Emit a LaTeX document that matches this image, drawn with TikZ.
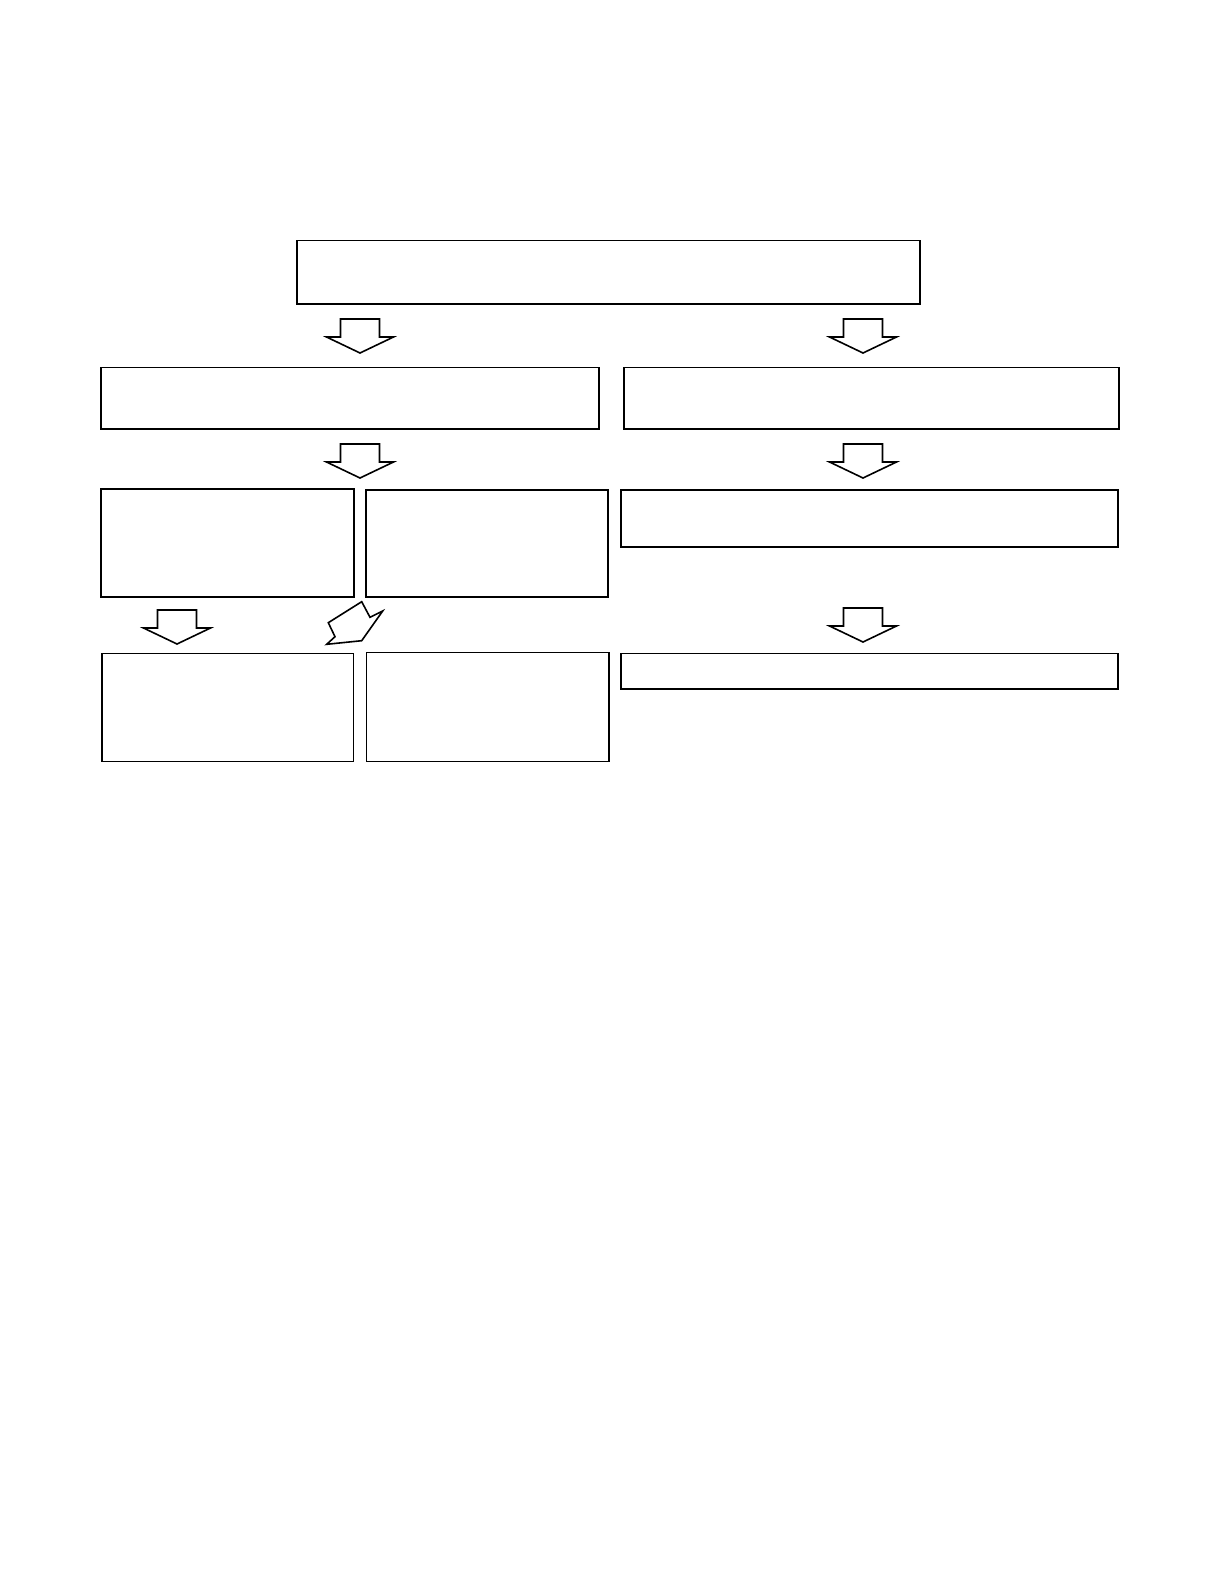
\documentclass[tikz,border=0pt]{standalone}
\usepackage{amsmath}
\usepackage{tikz}
\usetikzlibrary{calc}

\tikzset{
  flowbox/.style={draw, line width=1.2pt, inner sep=0pt, outer sep=0pt},
  arrowline/.style={draw, line width=1.6pt, line join=miter, fill=white}
}
% block arrow pointing down, top centre at (#1,#2)
\newcommand{\flowarrow}[2]{%
  \draw[arrowline, shift={(#1,#2)}] (-19.5,0) -- (19.5,0) -- (19.5,18) -- (33.5,18)
    -- (0,34) -- (-33.5,18) -- (-19.5,18) -- cycle;}

\begin{document}
\begin{tikzpicture}[x=1pt,y=-1pt]
      \useasboundingbox (0,0) rectangle (1218,1586);

      % boxes
      \node[flowbox, minimum width=623pt, minimum height=63.5pt] (top) at (608.5,272.25) {};
      \node[flowbox, minimum width=498pt, minimum height=61.5pt] (midL) at (350,398.25) {};
      \node[flowbox, minimum width=495pt, minimum height=61.5pt] (midR) at (871.5,398.25) {};
      \node[flowbox, minimum width=253pt, minimum height=108pt] (lowLa) at (227.5,543) {};
      \node[flowbox, minimum width=242pt, minimum height=107pt] (lowLb) at (487,543.5) {};
      \node[flowbox, minimum width=497pt, minimum height=57pt] (lowR) at (869.5,518.5) {};
      \node[flowbox, minimum width=251.5pt, minimum height=108pt] (botLa) at (227.75,707.5) {};
      \node[flowbox, minimum width=242.5pt, minimum height=109pt] (botLb) at (487.75,707) {};
      \node[flowbox, minimum width=497pt, minimum height=35.5pt] (botR) at (869.5,671.25) {};

      % arrows
      \flowarrow{360}{319}
      \flowarrow{863}{319}
      \flowarrow{360}{444}
      \flowarrow{863}{444}
      \flowarrow{177}{610}
      \flowarrow{863}{608}
      \draw[arrowline] (328.3,622.7) -- (335,636.7) -- (326.7,644.3) -- (361.7,640.7)
        -- (382.7,611) -- (370,617.3) -- (361.7,601.7) -- cycle;
\end{tikzpicture}
\end{document}
